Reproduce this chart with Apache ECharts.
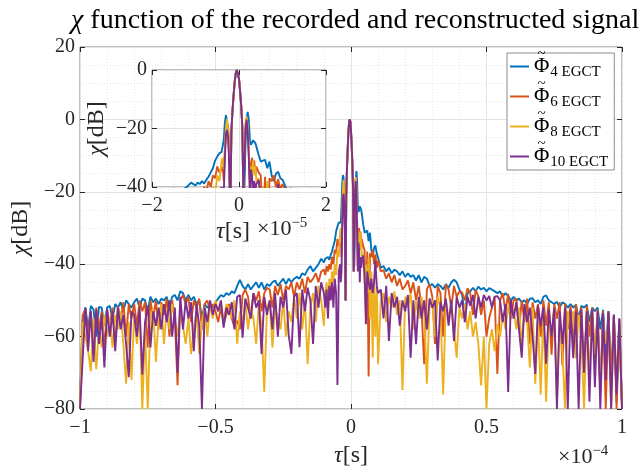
<!DOCTYPE html>
<html>
<head>
<meta charset="utf-8">
<script src="https://cdn.jsdelivr.net/npm/echarts@6/dist/echarts.min.js"></script>
<style>
  html, body { margin: 0; padding: 0; background: #fff; }
  #chart { width: 643px; height: 473px; }
</style>
</head>
<body>
<div id="chart"></div>
<script>
// Lag axis in microseconds (1 µs = 1e-6 s); denser sampling around the main lobe.
const tauUs = [
  -100,-99,-98,-97,-96,-95,-94,-93,-92,-91,
  -90,-89,-88,-87,-86,-85,-84,-83,-82,-81,
  -80,-79,-78,-77,-76,-75,-74,-73,-72,-71,
  -70,-69,-68,-67,-66,-65,-64,-63,-62,-61,
  -60,-59,-58,-57,-56,-55,-54,-53,-52,-51,
  -50,-49,-48,-47,-46,-45,-44,-43,-42,-41,
  -40,-39,-38,-37,-36,-35,-34,-33,-32,-31,
  -30,-29,-28,-27,-26,-25,-24,-23,-22,-21,
  -20,-19,-18,-17,-16,-15,-14,-13,-12,-11,
  -10,-9.5,-9,-8.5,-8,-7.5,-7,-6.5,-6,-5.5,-5,-4.5,
  -4,-3.75,-3.5,-3.25,-3,-2.75,-2.5,-2.25,-2,-1.75,-1.5,-1.25,-1,-0.75,-0.5,-0.25,
  0,0.25,0.5,0.75,1,1.25,1.5,1.75,2,2.25,2.5,2.75,3,3.25,3.5,3.75,4,
  4.5,5,5.5,6,6.5,7,7.5,8,8.5,9,9.5,10,
  11,12,13,14,15,16,17,18,19,20,
  21,22,23,24,25,26,27,28,29,30,
  31,32,33,34,35,36,37,38,39,40,
  41,42,43,44,45,46,47,48,49,50,
  51,52,53,54,55,56,57,58,59,60,
  61,62,63,64,65,66,67,68,69,70,
  71,72,73,74,75,76,77,78,79,80,
  81,82,83,84,85,86,87,88,89,90,
  91,92,93,94,95,96,97,98,99,100
];

// chi function [dB] of each reconstruction, one value per lag above
const chiPhi4 = [
  -78,-55,-52,-58,-51.5,-52.5,-60,-51.8,-52,-57,
  -52,-51.5,-55,-51,-52,-50.5,-53,-50,-51,-52,
  -50.5,-49.5,-52,-49.5,-50,-53,-49,-50.5,-49.5,-51,
  -49.5,-50,-49,-52,-49,-48.5,-50,-47.5,-48,-50,
  -48.5,-50,-49,-51,-50,-55,-51,-52,-51.5,-52,
  -50.5,-49.5,-48.5,-49,-48,-48.5,-47.5,-48,-46,-44.3,
  -46,-47,-45.5,-47,-46,-45,-46.5,-45,-47,-45.5,
  -46,-45,-44.5,-46,-45,-44,-45.5,-44,-45,-44,
  -43.5,-44,-42.5,-43,-41.5,-40.5,-42,-41,-40,-38.5,
  -39.5,-38.5,-39,-38,-38.8,-37.5,-36.5,-35,-33.6,-31,-29.6,-28.5,
  -28,-28.5,-24,-18,-15.4,-16,-20,-30,-50,-21,-14,-8.8,-4.2,-1.2,0,-0.6,
  -3,-7.3,-12,-19,-42,-40,-25,-17,-14.3,-17,-24,-25.6,-25,-24,-24.4,-25,-26.2,
  -29,-31.3,-31,-30.7,-33.6,-31.3,-36,-38,-35.5,-34.8,-37,-37.5,
  -41,-40.5,-42,-41,-42.5,-41.5,-42,-43,-42,-43.5,
  -42.5,-43.5,-43,-44.5,-43,-45,-43.5,-44,-46,-45.5,
  -46.5,-45.5,-46,-47,-45.5,-46.5,-45,-44.3,-45,-47,
  -48.5,-53.9,-48,-47.5,-46.5,-47.5,-46.2,-47,-46.5,-47.5,
  -46.6,-47,-47.5,-48,-47.5,-49,-48,-48.8,-50,-49,
  -50,-49.5,-50.5,-50,-51,-49.5,-49.4,-50.5,-50,-51,
  -49,-48.6,-50,-50.5,-51,-50.4,-52,-50.5,-51,-52,
  -51,-52,-51.2,-55,-51.5,-52,-51.2,-56,-52,-53,
  -52,-58,-52.6,-65,-53,-75,-54,-78,-55.6,-80
];

const chiPhi6 = [
  -79,-54,-52.5,-60,-53,-65,-52,-58,-53,-63,
  -52.5,-57,-52,-62,-51.5,-56,-50.5,-60,-51,-55,
  -51,-57,-50,-53,-50.5,-63,-50,-55,-50,-58,
  -50.5,-54,-49.5,-60,-50,-55,-73.4,-50,-48.5,-51,
  -49,-56,-50,-52,-49.5,-58,-51,-50,-53,-51,
  -53,-56,-52,-56.5,-54,-51,-55,-57.5,-55.6,-58,
  -48.5,-47,-49,-55,-48,-50,-47.5,-53,-48,-46.5,
  -47,-52,-46,-48.5,-45.5,-50,-46,-47,-45,-49,
  -45,-47,-44,-48,-43.5,-45,-44,-42.5,-45,-42,
  -41.5,-43,-40.5,-42,-40,-41.5,-38,-40,-36,-37,-33,-35,
  -34,-33,-38,-28,-20,-18.5,-20,-28,-50,-21,-14,-8.8,-4.2,-1.2,0,-0.6,
  -3,-7.3,-12,-19,-42,-30,-20,-16.5,-19,-27,-40,-32,-30,-34,-31,-36,-33,
  -35,-36,-52.8,-36.5,-71,-37,-38,-36,-40,-37.3,-41,-39,
  -42,-41.6,-44,-42.5,-45,-43,-46,-44,-47,-46,
  -44.5,-48,-45,-50,-46,-52,-67.6,-47,-45.5,-49,
  -62,-46,-48,-60,-45.6,-47,-52,-46,-49,-47.5,
  -47.8,-50,-46.6,-48,-54,-47,-49,-54,-50,-60,
  -54.8,-52,-49,-70.3,-50,-48,-53,-48.2,-55,-50,
  -49.5,-58,-50,-56,-49.5,-62,-50.5,-55,-51,-60,
  -50,-57,-50.5,-65,-51,-55,-50.5,-68,-51,-58,
  -51.5,-62,-51,-57,-52,-70,-51.5,-60,-52,-66,
  -52.5,-75,-53,-80,-53,-72,-54,-80,-55,-79
];

const chiPhi8 = [
  -80,-56,-60,-64,-69.6,-55,-69,-58,-63,-54,
  -60,-55,-63,-54,-58,-53,-62,-73,-56,-72,
  -54,-62,-53,-80,-58,-80,-55,-52,-67,-55,
  -51,-62,-52,-58,-51,-55,-60,-53,-57,-62,
  -55,-64.8,-58,-53,-64.8,-56,-52,-60,-51,-55,
  -50,-53,-50.5,-56,-51,-52,-55,-50,-62,-53,
  -56,-50,-58,-52,-55,-62,-51,-57,-75.3,-52,
  -50,-63,-52,-55,-58,-50,-60,-53,-56,-49,
  -55,-48,-58,-50,-67.6,-52,-48,-56,-46,-50,
  -57,-48,-45,-52,-44,-47,-42,-45,-40,-43,-36,-38,
  -31,-30,-34,-27,-20,-16.7,-17,-25,-50,-21,-14,-8.8,-4.2,-1.2,0,-0.6,
  -3,-7.3,-12,-19,-42,-28,-18,-15.9,-19,-28,-38,-33,-35,-31,-36,-33,-38,
  -37,-45,-40,-48,-38,-55,-42,-65.8,-44,-60,-46,-67.6,
  -50,-48,-56,-49,-52,-47.5,-54,-50,-74.8,-49,
  -52,-48,-58,-50,-55,-49,-53,-73,-51,-50,
  -60,-49,-52,-76,-50,-55,-51,-58,-65.8,-52,
  -55,-51,-58,-53,-60,-56,-62,-73.5,-60,-80,
  -62,-58,-64,-56.6,-60,-53.6,-58,-51.7,-55,-52,
  -58,-52,-62,-53,-56,-68.5,-52,-73,-55,-76,
  -53,-78,-54,-60,-52,-78,-55,-64,-80,-53,
  -58,-53,-66,-54,-60,-80,-54,-70,-55,-65,
  -54,-75,-55,-62,-56,-80,-55,-72,-57,-80
];

const chiPhi10 = [
  -80,-66,-52,-64,-53,-67,-52.5,-62,-54,-68.5,
  -52.5,-60,-53,-64,-52,-58,-54,-62,-71.2,-53,
  -54,-60,-52,-70.5,-56,-51.5,-63,-53,-57,-52,
  -58,-51,-56,-50,-60,-52,-70,-49,-58,-50,
  -55,-50.5,-64,-51,-57,-80,-52,-56,-50,-54,
  -51,-53,-50,-57.5,-52,-54,-50.5,-58,-49,-48.5,
  -60.3,-49.5,-52,-55,-48,-52,-50,-64.8,-49,-54,
  -50,-58,-48,-60,-49,-52,-47,-59.5,-64.8,-49,
  -48,-62.9,-47,-53,-46.5,-50,-62,-46,-52,-45,
  -48,-52,-47,-55,-46,-50,-45,-52,-44,-48,-73.4,-42,
  -40,-45,-42,-30,-22,-20.5,-23,-32,-50,-21,-14,-8.8,-4.2,-1.2,0,-0.6,
  -3,-7.3,-12,-19,-42,-32,-20,-17,-21,-30,-42,-34,-36,-45,-38,-41,-39,
  -37.6,-43,-56.6,-42,-45,-47,-44,-48,-45,-39,-46,-48,
  -47,-55,-46,-61.2,-48,-52,-49,-57,-50,-53,
  -48.5,-65.8,-50,-62.1,-49,-55,-50,-58,-49.5,-52,
  -50,-66.6,-50.5,-53,-49.5,-57,-50,-61.2,-49,-52,
  -50,-56,-49,-51.5,-48.5,-55,-49,-52,-48.5,-50,
  -48.8,-52,-49,-48.8,-50,-56,-51,-75.3,-50,-55,
  -50.5,-58,-65.8,-51,-56,-52,-60,-70.3,-51.5,-57,
  -52,-67.5,-52.5,-60,-52,-80,-53,-62,-52,-80,
  -52.5,-66,-53,-80,-52.5,-70,-53,-78,-52.5,-74,
  -53,-80,-53.5,-72,-53,-80,-54,-76,-55,-80
];

const seriesNames = ['Phi4 EGCT', 'Phi6 EGCT', 'Phi8 EGCT', 'Phi10 EGCT'];
const legendSubscripts = ['4 EGCT', '6 EGCT', '8 EGCT', '10 EGCT'];
const seriesValues = [chiPhi4, chiPhi6, chiPhi8, chiPhi10];
const lineColors = ['#0072BD', '#D95319', '#EDB120', '#7E2F8E'];

// axis ranges (µs / dB)
const mainTauRange = [-100, 100];
const mainChiRange = [-80, 20];
const insetTauRange = [-20, 20];
const insetChiRange = [-40, 0];

seriesValues.forEach((arr, i) => {
  if (arr.length !== tauUs.length) {
    console.error('length mismatch', seriesNames[i], arr.length, tauUs.length);
  }
});

const SERIF = "'Liberation Serif', 'DejaVu Serif', serif";
const INK = '#262626';
const BOX = '#808080';

function num(v) {
  const r = Math.round(v * 1000) / 1000;
  return r < 0 ? '\u2212' + String(-r) : String(r);
}

function pairs(values) {
  return tauUs.map((t, i) => [t, values[i]]);
}

// legend box layout
const LEG = { left: 507, top: 53, padL: 3, iconW: 19, iconGap: 5, rowH: 27, rowGap: 3, phiSize: 21 };

// width of the Phi glyph, to centre the tilde accent on it
const measureCtx = document.createElement('canvas').getContext('2d');
measureCtx.font = LEG.phiSize + "px 'Liberation Serif'";
const phiWidth = measureCtx.measureText('\u03a6').width;

const tildeMarks = legendSubscripts.map((_, i) => ({
  type: 'text',
  x: LEG.left + LEG.padL + LEG.iconW + LEG.iconGap + phiWidth / 2,
  y: LEG.top + LEG.rowH / 2 + i * (LEG.rowH + LEG.rowGap) - 12,
  z: 30,
  style: { text: '~', font: '15px ' + SERIF, fill: '#000', align: 'center', verticalAlign: 'middle' }
}));

const chart = echarts.init(document.getElementById('chart'), null, { renderer: 'canvas' });

function xAxisDef(gridIndex, range, interval, minorSplit, labelScale, top, extra) {
  return Object.assign({
    type: 'value',
    gridIndex: gridIndex,
    position: top ? 'top' : 'bottom',
    min: range[0],
    max: range[1],
    interval: interval,
    axisLine: { show: false, onZero: false },
    axisTick: { show: true, inside: true, length: 5, lineStyle: { color: INK, width: 1 } },
    axisLabel: top ? { show: false } : {
      show: true, fontFamily: SERIF, fontSize: 20, color: INK, margin: 9,
      formatter: v => num(v / labelScale)
    },
    splitLine: top ? { show: false } : { show: true, lineStyle: { color: '#e3e3e3', width: 1 } },
    minorTick: { show: false, splitNumber: minorSplit },
    minorSplitLine: top ? { show: false } : { show: true, lineStyle: { color: '#e6e6e6', width: 1, type: [1, 2] } }
  }, extra || {});
}

function yAxisDef(gridIndex, range, interval, minorSplit, right, extra) {
  return Object.assign({
    type: 'value',
    gridIndex: gridIndex,
    position: right ? 'right' : 'left',
    min: range[0],
    max: range[1],
    interval: interval,
    axisLine: { show: false, onZero: false },
    axisTick: { show: true, inside: true, length: 5, lineStyle: { color: INK, width: 1 } },
    axisLabel: right ? { show: false } : {
      show: true, fontFamily: SERIF, fontSize: 20, color: INK, margin: 5,
      formatter: v => num(v)
    },
    splitLine: right ? { show: false } : { show: true, lineStyle: { color: '#e3e3e3', width: 1 } },
    minorTick: { show: false, splitNumber: minorSplit },
    minorSplitLine: right ? { show: false } : { show: true, lineStyle: { color: '#e6e6e6', width: 1, type: [1, 2] } }
  }, extra || {});
}

const nameRich = { i: { fontStyle: 'italic', fontFamily: SERIF, fontSize: 24, color: INK } };

const series = [];
seriesValues.forEach((vals, i) => {
  series.push({
    name: seriesNames[i], type: 'line', xAxisIndex: 0, yAxisIndex: 0,
    data: pairs(vals), showSymbol: false, symbol: 'none', z: 2,
    lineStyle: { color: lineColors[i], width: 1.9 }, itemStyle: { color: lineColors[i] }
  });
});
seriesValues.forEach((vals, i) => {
  series.push({
    name: seriesNames[i], type: 'line', xAxisIndex: 2, yAxisIndex: 2,
    data: pairs(vals), showSymbol: false, symbol: 'none', z: 12, clip: true,
    lineStyle: { color: lineColors[i], width: 1.9 }, itemStyle: { color: lineColors[i] }
  });
});

const option = {
  animation: false,
  backgroundColor: '#fff',
  title: {
    text: '{i|\u03c7} function of the recorded and reconstructed signal',
    left: 66, top: 2,
    textStyle: {
      fontFamily: SERIF, fontSize: 28, fontWeight: 'normal', color: '#000',
      rich: { i: { fontStyle: 'italic', fontFamily: SERIF, fontSize: 28, color: '#000' } }
    }
  },
  grid: [
    { left: 80, top: 47, width: 542, height: 365, show: true, borderColor: BOX, borderWidth: 1, backgroundColor: 'transparent' },
    { left: 152, top: 70, width: 174, height: 117, show: true, borderColor: BOX, borderWidth: 1, backgroundColor: '#fff', z: 10 }
  ],
  xAxis: [
    xAxisDef(0, mainTauRange, 50, 5, 100, false, {
      name: '{i|\u03c4}[s]', nameLocation: 'middle', nameGap: 35,
      nameTextStyle: { fontFamily: SERIF, fontSize: 24, color: INK, rich: nameRich }
    }),
    xAxisDef(0, mainTauRange, 50, 5, 100, true),
    xAxisDef(1, insetTauRange, 20, 4, 10, false, {
      z: 11,
      name: '{i|\u03c4}[s]', nameLocation: 'middle', nameGap: 33,
      nameTextStyle: { fontFamily: SERIF, fontSize: 24, color: INK, rich: nameRich, padding: [0, 12, 0, 0] }
    }),
    xAxisDef(1, insetTauRange, 20, 4, 10, true, { z: 11 })
  ],
  yAxis: [
    yAxisDef(0, mainChiRange, 20, 4, false, {
      name: '{i|\u03c7}[dB]', nameLocation: 'middle', nameGap: 40, nameRotate: 90,
      nameTextStyle: { fontFamily: SERIF, fontSize: 24, color: INK, rich: nameRich }
    }),
    yAxisDef(0, mainChiRange, 20, 4, true),
    yAxisDef(1, insetChiRange, 20, 4, false, {
      z: 11,
      name: '{i|\u03c7}[dB]', nameLocation: 'middle', nameGap: 43, nameRotate: 90,
      nameTextStyle: { fontFamily: SERIF, fontSize: 24, color: INK, rich: nameRich }
    }),
    yAxisDef(1, insetChiRange, 20, 4, true, { z: 11 })
  ],
  legend: {
    data: seriesNames,
    orient: 'vertical',
    left: LEG.left, top: LEG.top,
    icon: 'rect',
    itemWidth: LEG.iconW, itemHeight: 2,
    itemGap: LEG.rowGap,
    padding: [0, 6, 0, LEG.padL],
    backgroundColor: '#fff',
    borderColor: '#8c8c8c', borderWidth: 1,
    formatter: name => '{p|\u03a6}{s|' + legendSubscripts[seriesNames.indexOf(name)] + '}',
    textStyle: {
      fontFamily: SERIF, color: '#000',
      rich: {
        p: { fontFamily: SERIF, fontSize: LEG.phiSize, lineHeight: LEG.rowH, color: '#000' },
        s: { fontFamily: SERIF, fontSize: 15, lineHeight: 15, padding: [12, 0, 0, 1], color: '#000' }
      }
    }
  },
  graphic: [
    {
      type: 'text', left: 558, top: 444, z: 20,
      style: {
        text: '\u00d710{e|\u22124}',
        font: '22px ' + SERIF, fill: INK,
        rich: { e: { fontFamily: SERIF, fontSize: 15, padding: [0, 0, 11, 0], fill: INK } }
      }
    },
    {
      type: 'text', left: 257, top: 216, z: 20,
      style: {
        text: '\u00d710{e|\u22125}',
        font: '22px ' + SERIF, fill: INK,
        rich: { e: { fontFamily: SERIF, fontSize: 15, padding: [0, 0, 11, 0], fill: INK } }
      }
    }
  ].concat(tildeMarks),
  series: series
};

chart.setOption(option);
</script>
</body>
</html>
